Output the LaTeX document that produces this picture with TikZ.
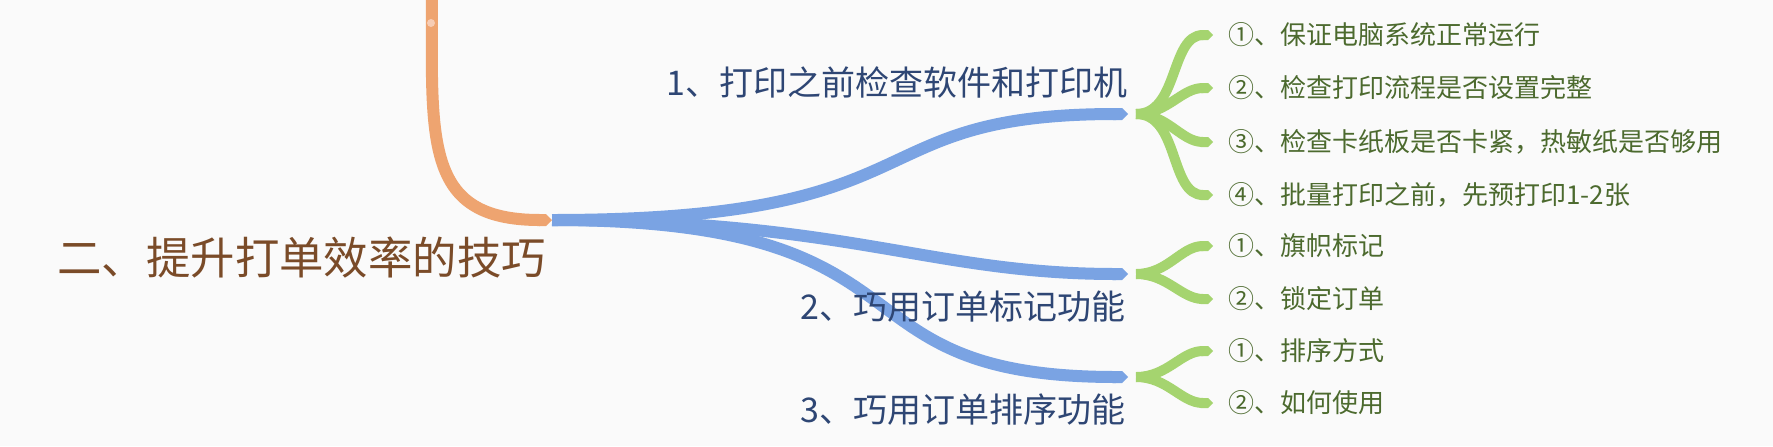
\documentclass[tikz,border=0pt]{standalone}
\usepackage{fontspec}
\setmainfont{Noto Sans CJK SC}
\usetikzlibrary{calc,arrows.meta}

\definecolor{bgcol}{RGB}{250,250,250}
\definecolor{trunkcol}{RGB}{238,164,112}
\definecolor{dotcol}{RGB}{246,204,180}
\definecolor{branchcol}{RGB}{122,163,227}
\definecolor{leafcol}{RGB}{165,212,111}
\definecolor{roottextcol}{RGB}{122,75,40}
\definecolor{topictextcol}{RGB}{46,70,116}
\definecolor{leaftextcol}{RGB}{76,106,46}

\begin{document}
\begin{tikzpicture}[x=0.5pt, y=-0.5pt,
    trunk/.style={draw=trunkcol, line width=6pt, -{Triangle Cap}},
    branch/.style={draw=branchcol, line width=6pt, -{Triangle Cap}},
    leaf/.style={draw=leafcol, line width=5pt, -{Triangle Cap}},
    roottext/.style={inner sep=0pt, text=roottextcol, font=\fontsize{22.2pt}{26pt}\selectfont},
    topic/.style={inner sep=0pt, anchor=east, text=topictextcol, font=\fontsize{17pt}{20pt}\selectfont},
    item/.style={inner sep=0pt, anchor=west, text=leaftextcol, font=\fontsize{13pt}{15pt}\selectfont}]
    \fill[bgcol] (0,0) rectangle (1773,446);
    \useasboundingbox (0,0) rectangle (1773,446);

    \coordinate (T) at (432,-10);
    \coordinate (R) at (552,220);
    \coordinate (B1) at (1128,114);
    \coordinate (B2) at (1128,274);
    \coordinate (B3) at (1128,377);

    % leaves first, so the blue tips lie on them
    \coordinate (G1) at ($(B1) + (8, 0)$);
    \coordinate (G2) at ($(B2) + (8, 0)$);
    \coordinate (G3) at ($(B3) + (8, 0)$);
    \foreach \y [count=\i] in {35,88,142,195}
        \draw[leaf] (G1) to[out=0, in=180] (1213,\y) coordinate (L1\i);
    \foreach \y [count=\i] in {246,299}
        \draw[leaf] (G2) to[out=0, in=180] (1213,\y) coordinate (L2\i);
    \foreach \y [count=\i] in {351,403}
        \draw[leaf] (G3) to[out=0, in=180] (1213,\y) coordinate (L3\i);

    \draw[branch] (R) .. controls ($(R) + (395, 0)$) and ($(B1) + (-278, 0)$) .. (B1);
    \draw[branch] (R) .. controls ($(R) + (298, 0)$) and ($(B2) + (-198, 0)$) .. (B2);
    \draw[branch] (R) .. controls ($(R) + (398, 0)$) and ($(B3) + (-308, 0)$) .. (B3);

    \draw[trunk] (T) .. controls ($(T) + (0, 150)$) and ($(R) + (-130, 0)$) .. (R);
    \fill[dotcol] (431,23) circle (4);

    \node[roottext, anchor=west] (root) at (57,258) {二、提升打单效率的技巧};

    \node[topic] (print) at (1128,82) {1、打印之前检查软件和打印机};
    \node[topic] (mark) at (1126,307) {2、巧用订单标记功能};
    \node[topic] (sort) at (1126,410) {3、巧用订单排序功能};

    \node[item] (p1) at ($(L11) + (15, 0)$) {①、保证电脑系统正常运行};
    \node[item] (p2) at ($(L12) + (15, 0)$) {②、检查打印流程是否设置完整};
    \node[item] (p3) at ($(L13) + (15, 0)$) {③、检查卡纸板是否卡紧，热敏纸是否够用};
    \node[item] (p4) at ($(L14) + (15, 0)$) {④、批量打印之前，先预打印1-2张};
    \node[item] (m1) at ($(L21) + (15, 0)$) {①、旗帜标记};
    \node[item] (m2) at ($(L22) + (15, 0)$) {②、锁定订单};
    \node[item] (s1) at ($(L31) + (15, 0)$) {①、排序方式};
    \node[item] (s2) at ($(L32) + (15, 0)$) {②、如何使用};
\end{tikzpicture}
\end{document}
